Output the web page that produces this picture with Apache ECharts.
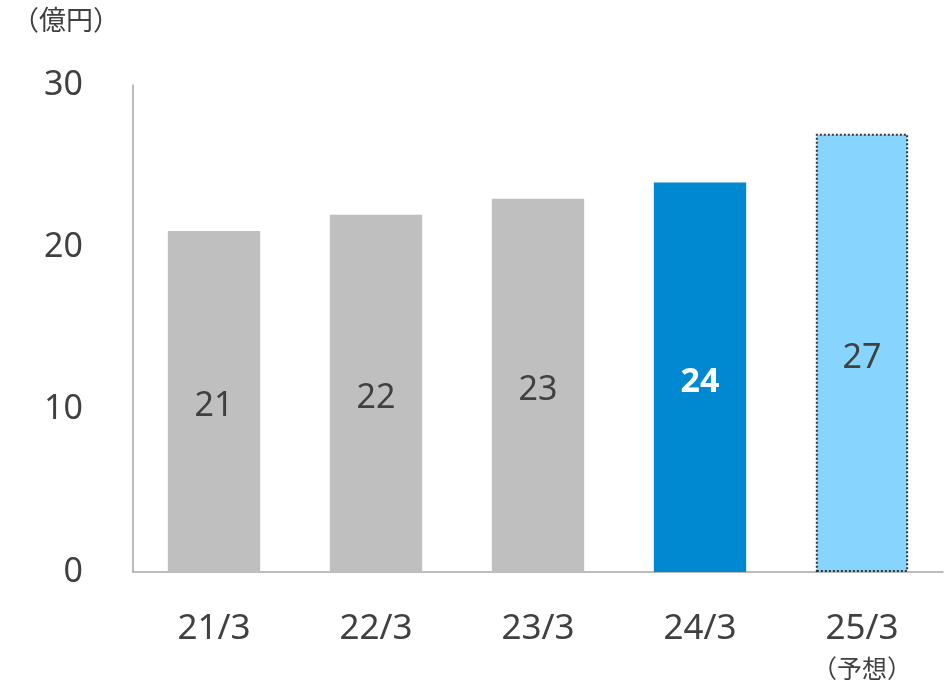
<!DOCTYPE html>
<html>
<head>
<meta charset="utf-8">
<script src="https://cdn.jsdelivr.net/npm/echarts@6/dist/echarts.min.js"></script>
<style>
  html, body { margin: 0; padding: 0; background: #fff; }
  #chart { width: 952px; height: 687px; }
</style>
</head>
<body>
<div id="chart"></div>
<script>
// Fiscal periods and values (100 million yen)
const categories = ['21/3', '22/3', '23/3', '24/3', '25/3'];
const values = [21, 22, 23, 24, 27];
const forecastNote = '（予想）';
const unitLabel = '（億円）';
const yTicks = [0, 10, 20, 30];

const FONT = '"Noto Sans", "Noto Sans CJK JP", sans-serif';
const TEXT = '#404040';

const barStyles = [
  { color: '#bfbfbf' },
  { color: '#bfbfbf' },
  { color: '#bfbfbf' },
  { color: '#0088d1' },
  { color: '#87d4ff', borderColor: '#333333', borderWidth: 2, borderType: [2, 2] }
];

const chart = echarts.init(document.getElementById('chart'), null, { renderer: 'canvas' });

chart.setOption({
  animation: false,
  textStyle: { fontFamily: FONT },
  graphic: [{
    type: 'text',
    left: 12,
    top: 9,
    style: { text: unitLabel, font: '27px ' + FONT, fill: TEXT }
  }],
  grid: { left: 133, right: 9, top: 85, bottom: 115, outerBoundsMode: 'none' },
  xAxis: {
    type: 'category',
    data: categories,
    axisLine: { lineStyle: { color: '#a6a6a6', width: 1.5 } },
    axisTick: { show: false },
    axisLabel: {
      interval: 0,
      margin: 37,
      color: TEXT,
      fontSize: 35,
      fontFamily: FONT,
      lineHeight: 40,
      formatter: function (v, i) {
        return i === categories.length - 1 ? v + '\n{n|' + forecastNote + '}' : v;
      },
      rich: {
        n: { fontSize: 25, color: TEXT, fontFamily: FONT, lineHeight: 44 }
      }
    }
  },
  yAxis: {
    type: 'value',
    min: yTicks[0],
    max: yTicks[yTicks.length - 1],
    interval: 10,
    axisLine: { show: true, lineStyle: { color: '#a6a6a6', width: 1.5 } },
    axisTick: { show: false },
    splitLine: { show: false },
    axisLabel: { margin: 50, color: TEXT, fontSize: 34, fontFamily: FONT }
  },
  series: [{
    type: 'bar',
    barWidth: '57%',
    data: values.map(function (v, i) {
      const isActual = i === 3;
      return {
        value: v,
        itemStyle: barStyles[i],
        label: {
          show: true,
          position: 'inside',
          offset: [0, 5],
          fontSize: 34,
          fontFamily: FONT,
          color: isActual ? '#ffffff' : TEXT,
          fontWeight: isActual ? 'bold' : 'normal'
        }
      };
    })
  }]
});
</script>
</body>
</html>
